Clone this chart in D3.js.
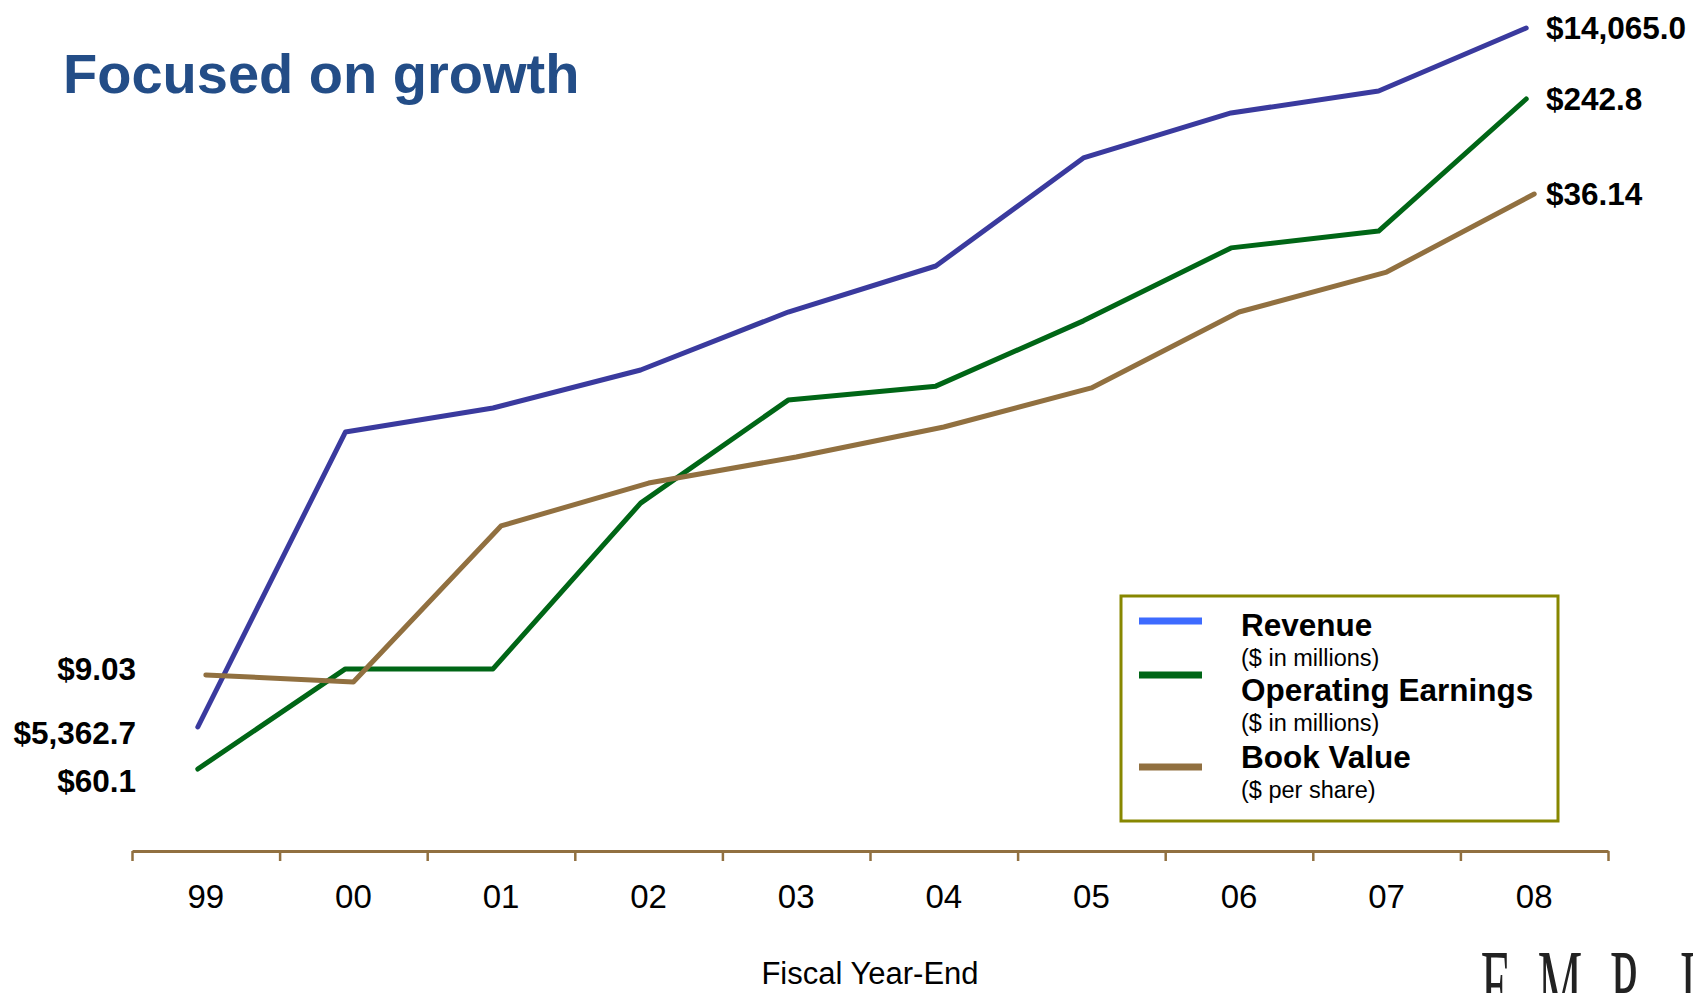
<!DOCTYPE html>
<html>
<head>
<meta charset="utf-8">
<script src="https://cdn.jsdelivr.net/npm/d3@7"></script>
<style>
	body { margin: 0; background: #fff; }
	svg { display: block; }
</style>
</head>
<body>
<div id="chart"></div>
<script>
//Fiscal year-end categories
var years = ["99", "00", "01", "02", "03", "04", "05", "06", "07", "08"];

//Series values
var revenue = [5362.7, 9035, 9334, 9807, 10529, 11102, 12447, 13007, 13281, 14065.0];		//$ in millions
var opEarnings = [60.1, 87.4, 87.4, 132.6, 160.7, 164.5, 182.3, 202.2, 206.8, 242.8];		//$ in millions
var bookValue = [9.03, 8.64, 17.43, 19.85, 21.32, 23.01, 25.21, 29.49, 31.74, 36.14];		//$ per share

//Legend texts
var legendNames = ["Revenue", "Operating Earnings", "Book Value"];
var legendNotes = ["($ in millions)", "($ in millions)", "($ per share)"];

var titleText = "Focused on growth",
	axisTitle = "Fiscal Year-End",
	logoText = "EMPIRE";

var width = 1693,
	height = 993,
	font = "'Liberation Sans', Arial, Helvetica, sans-serif";

var svg = d3.select("#chart").append("svg")
	.attr("width", width)
	.attr("height", height)
	.style("font-family", font);

//x: one band per year, ticks sit on the band edges
var x = d3.scaleBand()
	.domain(years)
	.range([132, 1608]);
var xEdge = d3.scaleLinear()
	.domain([0, years.length])
	.range([132, 1608]);

//each series has its own vertical scale (different units)
var series = [
	{ name: "rev", values: revenue, color: "#3a3a9e", legendColor: "#3d6bff", dx: -8, fmt: d3.format("$,.1f"), startDy: 6,
		y: d3.scaleLinear().domain([revenue[0], revenue[revenue.length - 1]]).range([727, 28]) },
	{ name: "op", values: opEarnings, color: "#006616", legendColor: "#006616", dx: -8, fmt: d3.format("$.1f"), startDy: 12,
		y: d3.scaleLinear().domain([opEarnings[0], opEarnings[opEarnings.length - 1]]).range([769, 99]) },
	{ name: "book", values: bookValue, color: "#917040", legendColor: "#917040", dx: 0, fmt: d3.format("$.2f"), startDy: -6,
		y: d3.scaleLinear().domain([bookValue[0], bookValue[bookValue.length - 1]]).range([675, 194]) }
];

//Title
svg.append("text")
	.attr("x", 63)
	.attr("y", 93)
	.style("font-size", "56px")
	.style("font-weight", "bold")
	.attr("fill", "#234d87")
	.text(titleText);

//Axis: edge ticks
var axisColor = "#917040";
var edgeAxis = svg.append("g")
	.attr("transform", "translate(0,851)")
	.call(d3.axisBottom(xEdge).ticks(years.length).tickSize(10).tickSizeOuter(0).tickFormat(""));
edgeAxis.select(".domain").attr("stroke", axisColor).attr("stroke-width", 3);
edgeAxis.selectAll(".tick line").attr("stroke", axisColor).attr("stroke-width", 2.5);

//Axis: year labels in the band centres
var labelAxis = svg.append("g")
	.attr("transform", "translate(0,851)")
	.call(d3.axisBottom(x).tickSize(0).tickPadding(0));
labelAxis.select(".domain").remove();
labelAxis.selectAll(".tick text")
	.attr("y", 45)
	.attr("dy", "0.35em")
	.style("font-family", font)
	.style("font-size", "33px")
	.attr("fill", "#000");

svg.append("text")
	.attr("x", 870)
	.attr("y", 984)
	.attr("text-anchor", "middle")
	.style("font-size", "31px")
	.attr("fill", "#000")
	.text(axisTitle);

//Lines
var lineWrapper = svg.selectAll(".series")
	.data(series)
	.enter().append("g")
	.attr("class", "series");

lineWrapper.append("path")
	.attr("d", function (s) {
		return d3.line()
			.x(function (d, i) { return x(years[i]) + x.bandwidth() / 2 + s.dx; })
			.y(function (d) { return s.y(d); })(s.values);
	})
	.attr("fill", "none")
	.attr("stroke", function (s) { return s.color; })
	.attr("stroke-width", 5)
	.attr("stroke-linecap", "round")
	.attr("stroke-linejoin", "round");

//Start values, right aligned left of the first point
lineWrapper.append("text")
	.attr("x", 136)
	.attr("y", function (s) { return s.y(s.values[0]) + s.startDy; })
	.attr("dy", "0.35em")
	.attr("text-anchor", "end")
	.style("font-size", "31.5px")
	.style("font-weight", "bold")
	.text(function (s) { return s.fmt(s.values[0]); });

//End values
lineWrapper.append("text")
	.attr("x", 1546)
	.attr("y", function (s) { return s.y(s.values[s.values.length - 1]); })
	.attr("dy", "0.35em")
	.style("font-size", "31.5px")
	.style("font-weight", "bold")
	.text(function (s) { return s.fmt(s.values[s.values.length - 1]); });

//Legend
var legend = svg.append("g").attr("transform", "translate(1121,596)");
legend.append("rect")
	.attr("width", 437)
	.attr("height", 225)
	.attr("fill", "#fff")
	.attr("stroke", "#878700")
	.attr("stroke-width", 3);

var swatchY = [25, 79, 171];
var nameY = [29, 94, 161];
legend.selectAll(".swatch")
	.data(series)
	.enter().append("line")
	.attr("class", "swatch")
	.attr("x1", 18).attr("x2", 81)
	.attr("y1", function (d, i) { return swatchY[i]; })
	.attr("y2", function (d, i) { return swatchY[i]; })
	.attr("stroke", function (d) { return d.legendColor; })
	.attr("stroke-width", 7);

legend.selectAll(".lname")
	.data(legendNames)
	.enter().append("text")
	.attr("class", "lname")
	.attr("x", 120)
	.attr("y", function (d, i) { return nameY[i]; })
	.attr("dy", "0.35em")
	.style("font-size", "31.5px")
	.style("font-weight", "bold")
	.text(function (d) { return d; });

legend.selectAll(".lnote")
	.data(legendNotes)
	.enter().append("text")
	.attr("class", "lnote")
	.attr("x", 120)
	.attr("y", function (d, i) { return nameY[i] + 33; })
	.attr("dy", "0.35em")
	.style("font-size", "23.5px")
	.text(function (d) { return d; });

//Logo, cut off by the bottom edge as in the source slide
svg.selectAll(".logo")
	.data(logoText.split(""))
	.enter().append("text")
	.attr("class", "logo")
	.attr("transform", function (d, i) { return "translate(" + (1496 + i * 64) + ",1018) scale(0.5,1)"; })
	.attr("text-anchor", "middle")
	.style("font-family", "'Liberation Serif', 'DejaVu Serif', serif")
	.style("font-size", "100px")
	.attr("fill", "#222")
	.text(function (d) { return d; });
</script>
</body>
</html>
